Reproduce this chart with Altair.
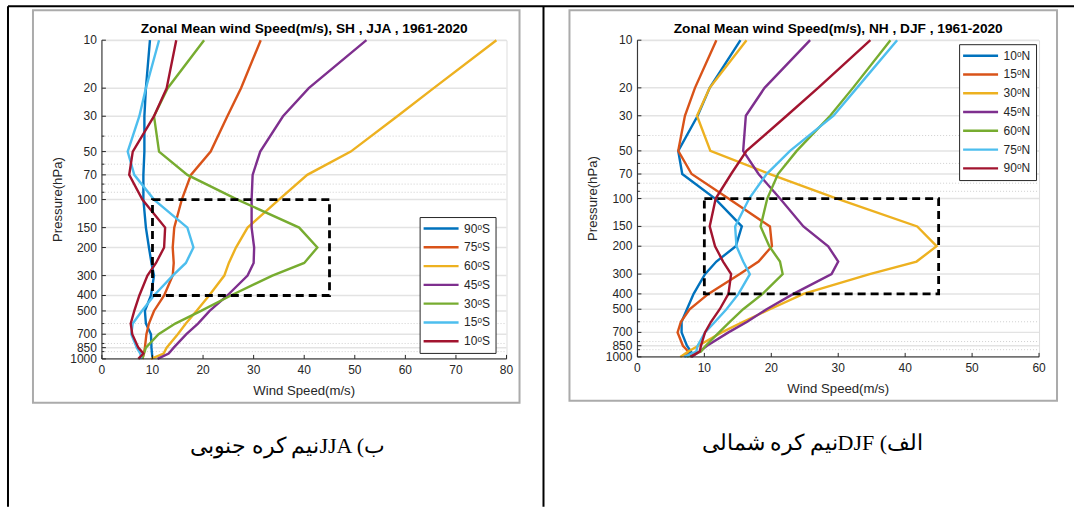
import altair as alt
import pandas as pd

# ---------------- data ----------------
P = [10, 20, 30, 50, 70, 100, 150, 200, 250, 300, 400, 500, 600, 700, 850, 925, 1000]

sh_labels = ["90ᵒS", "75ᵒS", "60ᵒS", "45ᵒS", "30ᵒS", "15ᵒS", "10ᵒS"]
sh_90 = [9.5, 8.7, 8.4, 8.4, 8.2, 8.2, 8.7, 9.3, 9.8, 10.3, 9.7, 8.5, 8.7, 9.7, 9.8, 9.9, 10.0]
sh_75 = [31.4, 27.5, 24.8, 21.5, 17.6, 15.8, 14.3, 14.0, 14.2, 14.0, 12.3, 10.3, 9.3, 8.8, 8.5, 8.3, 8.0]
sh_60 = [78.0, 65.6, 58.4, 49.2, 40.6, 35.0, 28.8, 26.5, 25.1, 24.2, 21.2, 18.7, 16.6, 15.0, 12.8, 12.2, 9.7]
sh_45 = [52.3, 40.9, 35.8, 31.3, 29.8, 29.6, 29.6, 30.1, 30.0, 28.8, 24.8, 21.3, 19.0, 16.7, 14.2, 13.2, 11.0]
sh_30 = [20.2, 13.0, 10.3, 11.3, 16.9, 26.8, 39.0, 42.6, 40.0, 33.7, 25.5, 19.6, 14.5, 11.2, 8.7, 8.3, 8.0]
sh_15 = [11.3, 8.7, 7.4, 5.1, 6.4, 10.3, 16.9, 18.1, 16.6, 14.0, 10.3, 7.9, 6.1, 5.8, 6.9, 7.6, 7.8]
sh_10 = [14.7, 12.8, 10.3, 6.1, 5.4, 8.0, 12.5, 12.3, 10.7, 9.0, 7.4, 6.4, 5.7, 6.0, 7.2, 8.2, 7.2]

nh_labels = ["10ᵒN", "15ᵒN", "30ᵒN", "45ᵒN", "60ᵒN", "75ᵒN", "90ᵒN"]
nh_10 = [15.4, 10.8, 9.0, 6.1, 6.7, 11.6, 15.6, 14.7, 11.8, 10.1, 8.4, 7.4, 6.6, 6.6, 7.4, 8.0, 7.1]
nh_15 = [11.8, 8.6, 7.1, 6.1, 8.1, 13.6, 19.8, 20.1, 18.1, 15.3, 10.6, 7.8, 6.5, 6.0, 6.8, 7.6, 7.0]
nh_30 = [16.3, 10.8, 8.9, 10.9, 19.8, 29.8, 41.8, 44.7, 41.7, 34.7, 24.8, 19.8, 15.8, 12.6, 9.1, 7.6, 6.4]
nh_45 = [25.8, 19.0, 16.2, 15.8, 18.1, 21.3, 24.8, 28.5, 30.0, 29.0, 23.3, 19.3, 16.4, 13.6, 10.4, 9.3, 8.1]
nh_60 = [37.8, 32.2, 28.8, 23.8, 21.0, 19.4, 18.4, 19.7, 21.3, 21.7, 18.7, 15.8, 13.8, 12.2, 10.2, 9.5, 7.4]
nh_75 = [38.8, 32.8, 29.3, 22.8, 19.3, 16.7, 14.6, 14.8, 15.8, 16.8, 15.1, 13.3, 11.6, 10.1, 9.0, 8.8, 7.0]
nh_90 = [34.8, 27.0, 22.3, 16.3, 14.0, 11.7, 10.8, 11.6, 12.8, 14.0, 13.6, 12.3, 11.0, 10.1, 9.5, 9.3, 7.9]

colors = ["#0072BD", "#D95319", "#EDB120", "#7E2F8E", "#77AC30", "#4DBEEE", "#A2142F"]

y_ticks = [10, 20, 30, 50, 70, 100, 150, 200, 300, 400, 500, 700, 850, 1000]
y_minor = [40, 60, 80, 90, 600, 800, 900]
sh_xticks = [0, 10, 20, 30, 40, 50, 60, 70, 80]
nh_xticks = [0, 10, 20, 30, 40, 50, 60]
box_x = [10, 45]
box_p = [100, 400]

sh_title = "Zonal Mean wind Speed(m/s), SH , JJA , 1961-2020"
nh_title = "Zonal Mean wind Speed(m/s), NH , DJF , 1961-2020"
x_title = "Wind Speed(m/s)"
y_title = "Pressure(hPa)"
# captions, ordered so that the left-to-right text line shows them as in the figure
sh_caption = "نیم کره جنوبیJJA (ب"
nh_caption = "نیم کره شمالیDJF (الف"

AX = "#262626"
FONT = "Liberation Sans"
one = pd.DataFrame({"k": [0]})


def txt(s, x, y, **kw):
    return alt.Chart(pd.DataFrame({"t": [s]})).mark_text(**kw).encode(
        text="t:N", x=alt.value(x), y=alt.value(y))


def hrule(x, x2, y, **kw):
    return alt.Chart(one).mark_rule(**kw).encode(x=alt.value(x), x2=alt.value(x2), y=alt.value(y))


def vrule(x, y, y2, **kw):
    return alt.Chart(one).mark_rule(**kw).encode(x=alt.value(x), y=alt.value(y), y2=alt.value(y2))


def frame(x, x2, y, y2):
    return alt.Chart(one).mark_rect(fillOpacity=0, stroke="#ababab", strokeWidth=2).encode(
        x=alt.value(x), x2=alt.value(x2), y=alt.value(y), y2=alt.value(y2))


def panel(series, labels, xmax, xticks, W, H, title, caption, leg, cap, frm, extra):
    rows = []
    for lab, vals in zip(labels, series):
        for i, (p, v) in enumerate(zip(P, vals)):
            rows.append({"lat": lab, "p": p, "v": v, "i": i})
    df = pd.DataFrame(rows)
    xs = alt.Scale(domain=[0, xmax], nice=False, zero=False)
    ys = alt.Scale(type="log", domain=[10, 1000], reverse=True, nice=False)

    grid = alt.Chart(pd.DataFrame({"p": y_ticks})).mark_rule(
        color="#e3e3e3", strokeWidth=1.5).encode(
        y=alt.Y("p:Q", scale=ys, axis=None), x=alt.value(0), x2=alt.value(W))
    minor = alt.Chart(pd.DataFrame({"p": y_minor})).mark_rule(
        color="#cfcfcf", strokeDash=[1, 2], strokeWidth=1).encode(
        y=alt.Y("p:Q", scale=ys, axis=None), x=alt.value(0), x2=alt.value(W))

    lines = alt.Chart(df).mark_line(strokeWidth=2.4).encode(
        x=alt.X("v:Q", scale=xs, axis=None),
        y=alt.Y("p:Q", scale=ys, axis=None),
        color=alt.Color("lat:N", scale=alt.Scale(domain=labels, range=colors),
                        legend=alt.Legend(orient="none", legendX=leg[0], legendY=leg[1],
                                          title=None, symbolType="M-3.5,0H3.5", symbolSize=100,
                                          symbolStrokeWidth=2.4, symbolOffset=10,
                                          labelOffset=16.5, labelFontSize=12,
                                          labelColor=AX, labelFont=FONT, strokeColor=AX,
                                          fillColor="white", padding=5, rowPadding=5.8)),
        order=alt.Order("i:Q"))

    box = alt.Chart(pd.DataFrame({"x1": [box_x[0]], "x2": [box_x[1]],
                                  "p1": [box_p[0]], "p2": [box_p[1]]})).mark_rect(
        fillOpacity=0, stroke="black", strokeWidth=2.8, strokeDash=[8, 5]).encode(
        x=alt.X("x1:Q", scale=xs, axis=None), x2="x2:Q",
        y=alt.Y("p1:Q", scale=ys, axis=None), y2="p2:Q")

    xt = alt.Chart(pd.DataFrame({"v": xticks})).mark_rule(color=AX, strokeWidth=1).encode(
        x=alt.X("v:Q", scale=xs, axis=None), y=alt.value(H), y2=alt.value(H - 4))
    yt = alt.Chart(pd.DataFrame({"p": y_ticks})).mark_rule(color=AX, strokeWidth=1).encode(
        y=alt.Y("p:Q", scale=ys, axis=None), x=alt.value(0), x2=alt.value(4))
    ymt = alt.Chart(pd.DataFrame({"p": y_minor})).mark_rule(color=AX, strokeWidth=1).encode(
        y=alt.Y("p:Q", scale=ys, axis=None), x=alt.value(0), x2=alt.value(2.5))

    xlab = alt.Chart(pd.DataFrame({"v": xticks})).mark_text(
        font=FONT, fontSize=12, color=AX, align="center", baseline="top").encode(
        x=alt.X("v:Q", scale=xs, axis=None), y=alt.value(H + 6), text=alt.Text("v:Q", format="d"))
    ylab = alt.Chart(pd.DataFrame({"p": y_ticks})).mark_text(
        font=FONT, fontSize=12, color=AX, align="right", baseline="middle").encode(
        y=alt.Y("p:Q", scale=ys, axis=None), x=alt.value(-5), text=alt.Text("p:Q", format="d"))

    xdom = hrule(0, W, H, color=AX, strokeWidth=1)
    ydom = vrule(0, 0, H, color=AX, strokeWidth=1)

    ttl = txt(title, W / 2, -11, font=FONT, fontSize=13.7, fontWeight="bold", color="black",
              align="center", baseline="middle")
    xtl = txt(x_title, W / 2, H + 32, font=FONT, fontSize=13.2, color=AX,
              align="center", baseline="middle")
    ytl = txt(y_title, -44, H / 2, font=FONT, fontSize=13.2, color=AX, angle=270,
              align="center", baseline="middle")
    capt = txt(caption, cap[0], cap[1], font="Liberation Serif", fontSize=22, color="black",
               align="center", baseline="alphabetic")

    layers = [grid, minor, lines, box, xdom, ydom, xt, yt, ymt, xlab, ylab,
              ttl, xtl, ytl, capt, frame(frm[0], frm[1], frm[2], frm[3])] + extra
    return alt.layer(*layers).properties(width=W, height=H)


left = panel([sh_90, sh_75, sh_60, sh_45, sh_30, sh_15, sh_10], sh_labels, 80, sh_xticks,
             405, 319, sh_title, sh_caption, (318, 177), (186, 413), (-69, 418, -30, 363),
             [hrule(-94, 973, -34, color="black", strokeWidth=2),
              vrule(-94, -34, 467, color="black", strokeWidth=2),
              vrule(442, -34, 467, color="black", strokeWidth=2)])
right = panel([nh_10, nh_15, nh_30, nh_45, nh_60, nh_75, nh_90], nh_labels, 60, nh_xticks,
              402, 317, nh_title, nh_caption, (322, 4), (175, 410), (-68, 420, -30, 361), [])

chart = alt.hconcat(left, right, spacing=131, bounds="flush").resolve_scale(
    color="independent").resolve_legend(color="independent").properties(
    padding={"left": 6, "top": 4, "right": 0, "bottom": 0}).configure_view(
    stroke=None).configure(font=FONT)

chart.save("out.html", embed_options={"renderer": "svg", "actions": False})
